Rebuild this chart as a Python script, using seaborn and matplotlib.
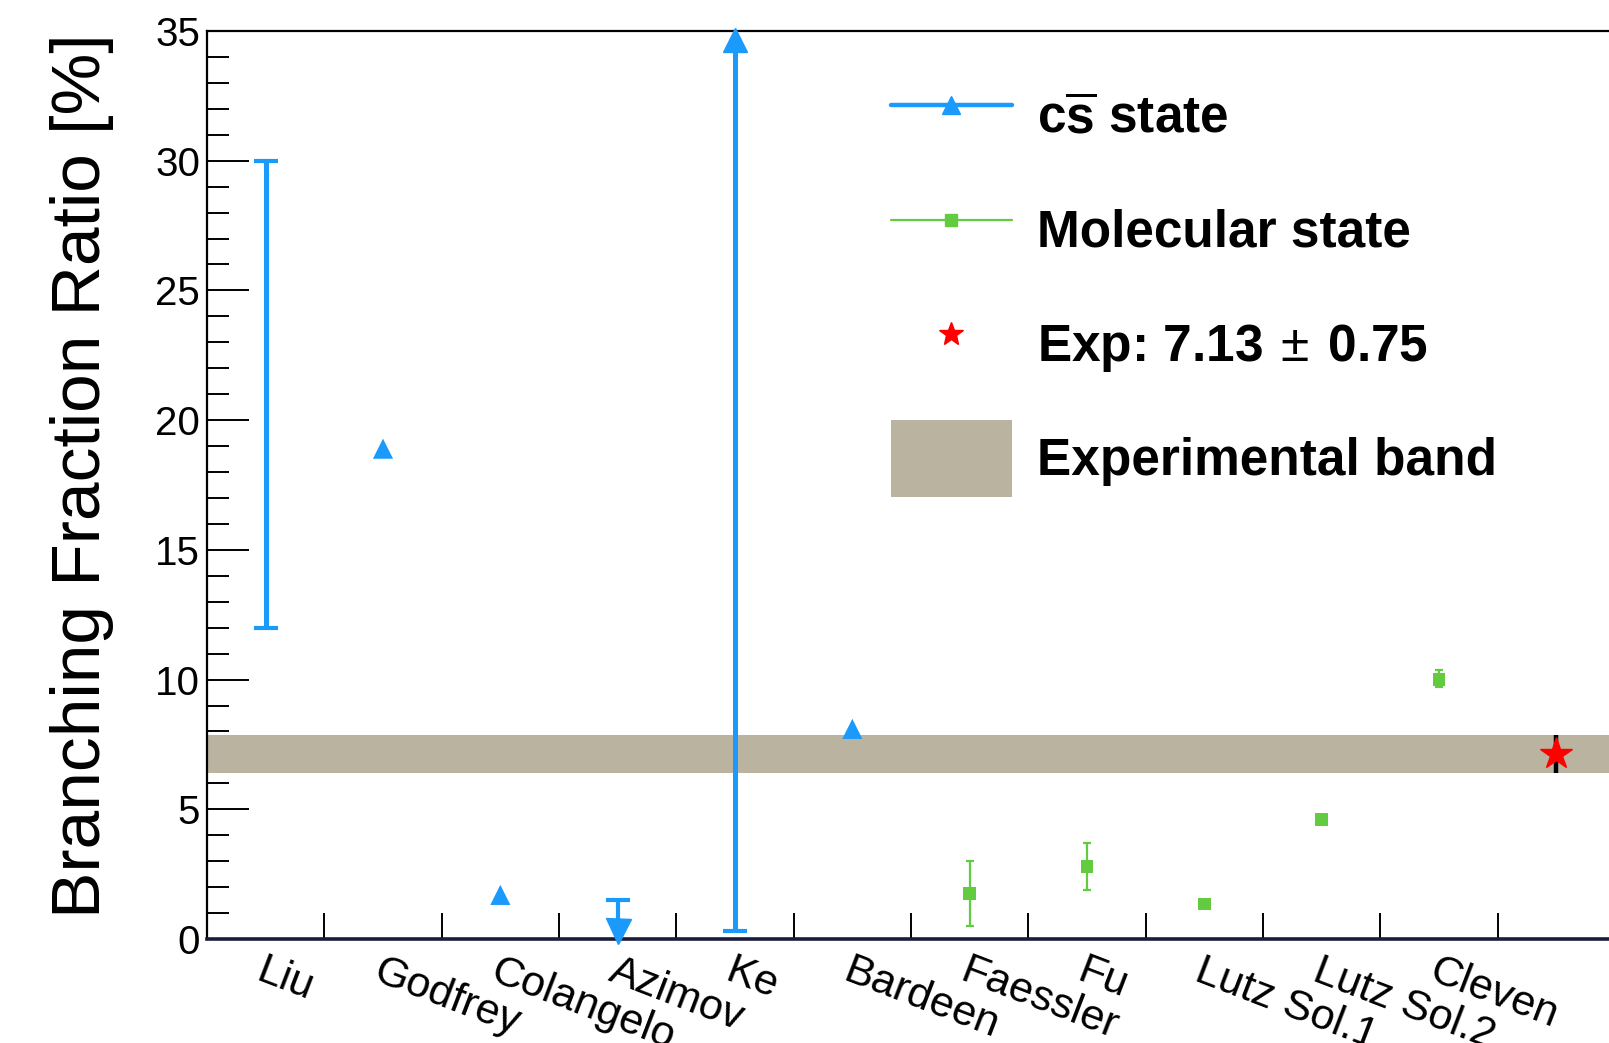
import numpy as np
import pandas as pd
import matplotlib
matplotlib.use("Agg")
import matplotlib.pyplot as plt
import seaborn as sns
from matplotlib.lines import Line2D
from matplotlib.patches import Patch
from matplotlib.ticker import MultipleLocator, FixedLocator

# ---------------- data ----------------
categories = ["Liu", "Godfrey", "Colangelo", "Azimov", "Ke", "Bardeen",
              "Faessler", "Fu", "Lutz Sol.1", "Lutz Sol.2", "Cleven", ""]

# c s-bar state: point predictions
cs_point_names = ["Godfrey", "Colangelo", "Bardeen"]
cs_point_values = [18.9, 1.7, 8.1]
# c s-bar state: range predictions (low, high)
cs_range_names = ["Liu", "Ke"]
cs_range_low = [12.0, 0.3]
cs_range_high = [30.0, 35.0]
# c s-bar state: upper limit
cs_limit_names = ["Azimov"]
cs_limit_values = [1.5]

# molecular state
mol_names = ["Faessler", "Fu", "Lutz Sol.1", "Lutz Sol.2", "Cleven"]
mol_values = [1.75, 2.8, 1.35, 4.6, 10.0]
mol_err_low = [1.25, 0.9, 0.0, 0.0, 0.3]
mol_err_high = [1.25, 0.9, 0.0, 0.0, 0.35]

# experiment
exp_value = 7.13
exp_error = 0.75

# ---------------- style ----------------
sns.set_theme(style="white")
plt.rcParams["font.family"] = ["Liberation Sans", "DejaVu Sans"]
plt.rcParams["mathtext.fontset"] = "custom"
plt.rcParams["mathtext.bf"] = "Liberation Sans:bold"
plt.rcParams["mathtext.rm"] = "Liberation Sans"
for k in ["text.color", "axes.labelcolor", "xtick.color", "ytick.color"]:
    plt.rcParams[k] = "black"

BLUE = "#1A9BFB"
GREEN = "#62CB40"
BAND = "#B9B3A0"

W, H = 1609, 1043
fig = plt.figure(figsize=(W / 100, H / 100), dpi=100)
ax = fig.add_axes([207 / W, 1 - 939 / H, (1615 - 207) / W, (939 - 31) / H])

pos = {c: i + 0.5 for i, c in enumerate(categories)}

# experimental band
ax.axhspan(exp_value - exp_error, exp_value + exp_error, color=BAND, lw=0, zorder=1)

# cs ranges
for n, lo, hi in zip(cs_range_names, cs_range_low, cs_range_high):
    x = pos[n]
    ax.vlines([x], lo, hi, color=BLUE, lw=3.6, zorder=3, clip_on=False)
    ax.plot([x], [lo], marker="_", ms=17, mew=3.0, color=BLUE, ls="none", zorder=3)
    if hi < 35:
        ax.plot([x], [hi], marker="_", ms=17, mew=3.0, color=BLUE, ls="none", zorder=3)
    else:
        ax.plot([x], [hi - 0.35], marker="^", ms=17, color=BLUE, ls="none",
                clip_on=False, zorder=4)

# Azimov upper limit
for n, v in zip(cs_limit_names, cs_limit_values):
    x = pos[n]
    ax.vlines([x], 0.5, v, color=BLUE, lw=3.0, zorder=3)
    ax.plot([x], [v], marker="_", ms=17, mew=3.0, color=BLUE, ls="none", zorder=3)
    ax.plot([x], [0.3], marker="v", ms=18, color=BLUE, ls="none",
            clip_on=False, zorder=4)

# cs points
df_cs = pd.DataFrame({"x": [pos[n] for n in cs_point_names], "y": cs_point_values})
sns.scatterplot(data=df_cs, x="x", y="y", marker="^", s=210, color=BLUE,
                edgecolor="none", ax=ax, zorder=4, legend=False)

# molecular
mx = [pos[n] for n in mol_names]
ax.errorbar(mx, mol_values, yerr=[mol_err_low, mol_err_high], fmt="none",
            ecolor=GREEN, elinewidth=1.6, capsize=3, capthick=1.6, zorder=3)
df_mol = pd.DataFrame({"x": mx, "y": mol_values})
sns.scatterplot(data=df_mol, x="x", y="y", marker="s", s=80, color=GREEN,
                edgecolor="none", ax=ax, zorder=4, legend=False)

# experiment
ex = pos[""]
ax.errorbar([ex], [exp_value], yerr=[exp_error], fmt="none", ecolor="black",
            elinewidth=3.2, capsize=0, zorder=4)
ax.plot([ex], [exp_value], marker="*", ms=24, color="red", ls="none", zorder=5)

# ---------------- axes ----------------
ax.set_xlim(0, len(categories))
ax.set_ylim(0, 35)

ax.yaxis.set_major_locator(MultipleLocator(5))
ax.yaxis.set_minor_locator(MultipleLocator(1))
ax.tick_params(axis="y", which="major", direction="in", length=30, width=1.4,
               labelsize=29, pad=5, left=True, right=False, colors="black")
ax.tick_params(axis="y", which="minor", direction="in", length=16, width=1.4,
               left=True, right=False)

ax.xaxis.set_major_locator(FixedLocator(np.arange(1, len(categories))))
ax.xaxis.set_major_formatter(plt.NullFormatter())
ax.xaxis.set_minor_locator(FixedLocator(np.arange(len(categories)) + 0.5))
ax.set_xticklabels(categories, minor=True)
ax.tick_params(axis="x", which="major", direction="in", length=19, width=1.4,
               bottom=True, top=False)
ax.tick_params(axis="x", which="minor", length=0, labelsize=31, pad=9)
for lab in ax.get_xticklabels(minor=True):
    lab.set_rotation(-21)
    lab.set_ha("left")
    lab.set_va("top")
    lab.set_rotation_mode("anchor")

ax.set_xlabel("")
ax.set_ylabel("Branching Fraction Ratio [%]", fontsize=50)
ax.yaxis.set_label_coords(-0.066, 0.51)

for s in ["left", "top"]:
    ax.spines[s].set_color("black")
    ax.spines[s].set_linewidth(1.6)
ax.spines["bottom"].set_color("#1b1b3a")
ax.spines["bottom"].set_linewidth(2.6)
ax.spines["right"].set_visible(False)

# ---------------- legend ----------------
handles = [
    Line2D([], [], color=BLUE, lw=3.2, marker="^", ms=13),
    Line2D([], [], color=GREEN, lw=1.6, marker="s", ms=8),
    Line2D([], [], color="red", lw=0, marker="*", ms=18),
    Patch(facecolor=BAND, edgecolor="none"),
]
labels = [r"c$\overline{\mathbf{s}}$ state", "Molecular state",
          r"Exp: 7.13$\,\pm\,$0.75", "Experimental band"]
leg = ax.legend(handles, labels, loc="upper left",
                bbox_to_anchor=(891 / W, 1 - 78 / H), bbox_transform=fig.transFigure,
                frameon=False, prop={"weight": "bold", "size": 37},
                handlelength=2.35, handleheight=1.93, handletextpad=0.5,
                labelspacing=0.72, borderpad=0, borderaxespad=0)

fig.savefig("out.png", dpi=100)
